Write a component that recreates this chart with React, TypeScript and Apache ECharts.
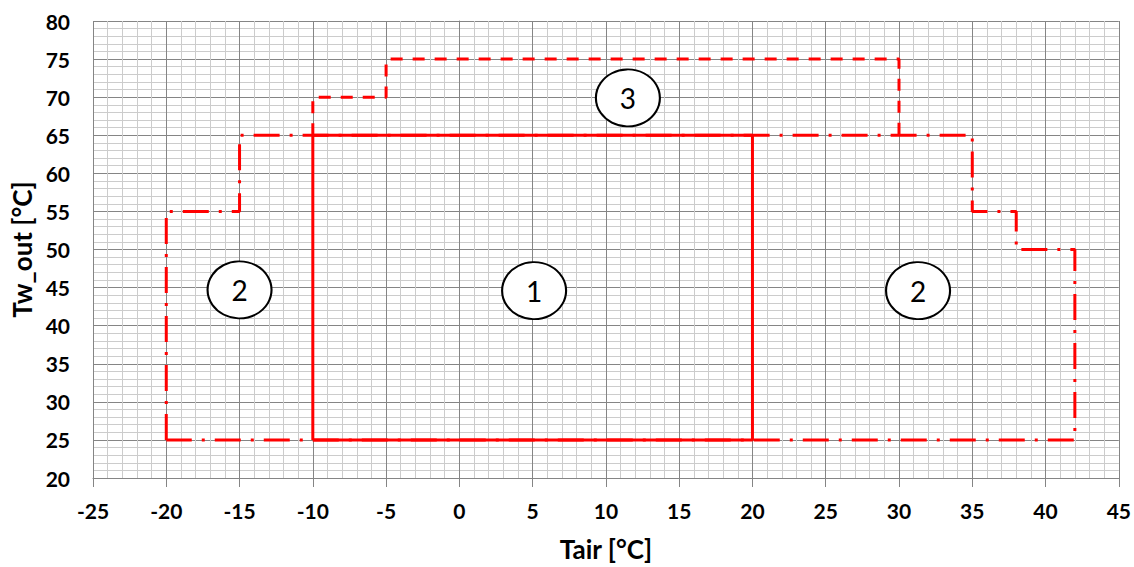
import React, { useEffect, useRef } from "react";
import * as echarts from "echarts";

// Region 1 (solid)
const region1X = [-10, -10, 20, 20, -10];
const region1Y = [25, 65, 65, 25, 25];
// Region 2 (dash-dot)
const region2X = [-20, -20, -15, -15, 35, 35, 38, 38, 42, 42, -20];
const region2Y = [25, 55, 55, 65, 65, 55, 55, 50, 50, 25, 25];
// Region 3 (dashed)
const region3X = [-10, -10, -5, -5, 30, 30];
const region3Y = [65, 70, 70, 75, 75, 65];
// Region labels
const labelText = ["1", "2", "2", "3"];
const labelX = [5.1, -15, 31.3, 11.5];
const labelY = [44.6, 44.7, 44.6, 69.9];

const xMin = -25, xMax = 45, xStep = 5;
const yMin = 20, yMax = 80, yStep = 5;

const pairs = (xs: number[], ys: number[]) => xs.map((x, i) => [x, ys[i]]);

export default function App() {
  const ref = useRef<HTMLDivElement>(null);
  useEffect(() => {
    if (!ref.current) return;
    const chart = echarts.init(ref.current, null, { renderer: "svg" });
    const font = "Lato, 'Open Sans', sans-serif";
    const red = "#ff0000";
    const axisCommon = {
      axisLine: { show: true, lineStyle: { color: "#858585", width: 1 } },
      axisTick: { show: true, length: 9, lineStyle: { color: "#858585" } },
      splitLine: { show: true, lineStyle: { color: "#858585", width: 1 } },
      minorTick: { show: true, splitNumber: 5, length: 0 },
      minorSplitLine: { show: true, lineStyle: { color: "#cccccc", width: 1 } },
      nameTextStyle: { fontFamily: font, fontWeight: "bold", fontSize: 26, color: "#000" },
    };
    chart.setOption({
      animation: false,
      backgroundColor: "#fff",
      grid: { left: 93, right: 15, top: 21, bottom: 86, containLabel: false },
      xAxis: {
        type: "value",
        min: xMin,
        max: xMax,
        interval: xStep,
        name: "Tair [°C]",
        nameLocation: "middle",
        nameGap: 58,
        ...axisCommon,
        axisLabel: { margin: 22, fontFamily: font, fontWeight: "bold", fontSize: 21, color: "#000" },
      },
      yAxis: {
        type: "value",
        min: yMin,
        max: yMax,
        interval: yStep,
        name: "Tw_out [°C]",
        nameLocation: "middle",
        nameGap: 55,
        ...axisCommon,
        axisLabel: { margin: 23, fontFamily: font, fontWeight: "bold", fontSize: 21, color: "#000" },
      },
      series: [
        {
          type: "line",
          data: pairs(region2X, region2Y),
          symbol: "none",
          lineStyle: { color: red, width: 3, type: [26, 10, 3, 10] },
          z: 2,
        },
        {
          type: "line",
          data: pairs(region3X, region3Y),
          symbol: "none",
          lineStyle: { color: red, width: 3, type: [12, 10] },
          z: 2,
        },
        {
          type: "line",
          data: pairs(region1X, region1Y),
          symbol: "none",
          lineStyle: { color: red, width: 3, type: "solid" },
          z: 3,
        },
        {
          type: "scatter",
          data: labelText.map((t, i) => ({ name: t, value: [labelX[i], labelY[i]] })),
          symbol: "circle",
          symbolSize: [64, 57],
          itemStyle: { color: "#fff", borderColor: "#000", borderWidth: 2, opacity: 1 },
          label: {
            show: true,
            position: "inside",
            formatter: (p: any) => p.name,
            fontFamily: font,
            fontSize: 28,
            color: "#000",
          },
          z: 4,
        },
      ],
    });
    return () => chart.dispose();
  }, []);
  return (
    <div
      ref={ref}
      style={{ position: "fixed", left: 0, top: 0, width: 1134, height: 567 }}
    />
  );
}
